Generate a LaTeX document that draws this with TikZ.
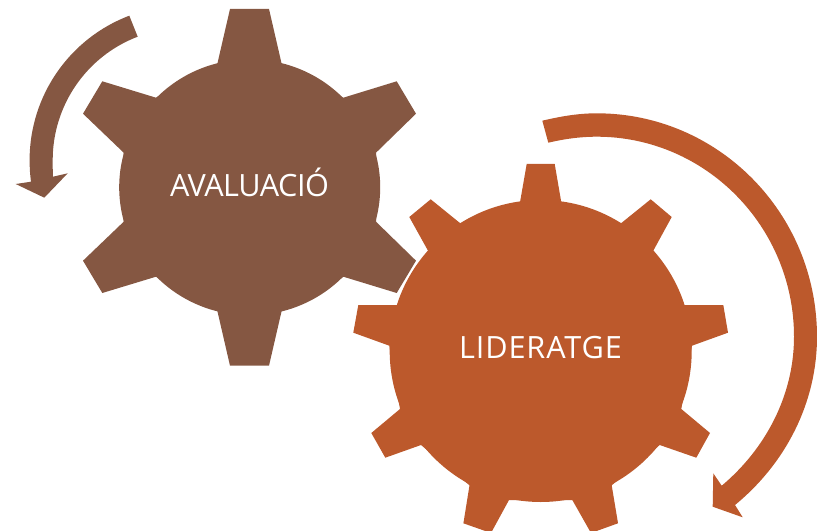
\documentclass[tikz,border=0pt]{standalone}
\usepackage{fontspec}
\setmainfont{Open Sans}
\definecolor{brownfill}{RGB}{133,87,66}
\definecolor{orangefill}{RGB}{188,89,44}
\tikzset{
  gearlabel/.style={text=white,anchor=base,inner sep=0pt,font=\fontsize{23pt}{28pt}\selectfont},
  brownshape/.style={fill=brownfill,draw=none},
  orangeshape/.style={fill=orangefill,draw=none}
}
\begin{document}
\begin{tikzpicture}[x=0.75pt,y=-0.75pt]
\useasboundingbox (0,0) rectangle (817,531);
\clip (0,0) rectangle (817,531);
% brown gear
\fill[brownshape] (249.7,187.3) ellipse [x radius=130.5,y radius=128];
\fill[brownshape] (230,9) -- (269,9) -- (281.7,64) -- (343.3,97.7) -- (396.7,81.3) -- (416,113.7) -- (376,152.7) -- (376,221.7) -- (416,260.7) -- (396.7,293) -- (343.3,276.7) -- (281.7,310.7) -- (269,365.7) -- (230,365.7) -- (217.3,310.7) -- (156,276.7) -- (102.3,293) -- (83,260.7) -- (123.7,221.7) -- (123.7,152.7) -- (83,113.7) -- (102.3,81.3) -- (156,97.7) -- (217.3,64) -- cycle;
% orange gear
\fill[orangeshape] (540.7,351) circle [radius=151];
\fill[orangeshape] (526.7,164) -- (554.7,164) -- (561.3,202.3) -- (621,223.3) -- (650.7,199.3) -- (671.7,217) -- (653.3,250.7) -- (684,305) -- (723.3,305) -- (728,332.7) -- (692,345.7) -- (681.3,409) -- (710,433) -- (696.3,457.7) -- (659.7,445) -- (611.7,485.3) -- (618,523.3) -- (591,533) -- (572.3,500) -- (509,500) -- (491,533) -- (463.4,523.3) -- (469.5,485.3) -- (421,445) -- (385.3,457.7) -- (371.3,433) -- (400,409) -- (389.3,345.7) -- (353.3,332.7) -- (358.3,305) -- (397,305) -- (428,250.7) -- (409.3,217) -- (430.7,199.3) -- (460.3,223.3) -- (520,202.3) -- cycle;
% brown arrow
\fill[brownshape] (129.3,15.7) .. controls (69.4,38.4) and (29.6,95.9) .. (29.6,160) .. controls (29.6,167.2) and (30,174.5) .. (31,181.7) -- (15.7,184) -- (44.3,197.7) -- (67.7,173.3) -- (53,176.7) .. controls (52.7,171) and (52.7,166) .. (52.7,160) .. controls (52.7,105.3) and (86.6,56.1) .. (137.7,36.7) -- cycle;
% orange arrow
\fill[orangeshape] (542.3,120.7) .. controls (560,116.5) and (578,113.3) .. (596.7,113.3) .. controls (718.4,113.3) and (817,213.3) .. (817,336.7) .. controls (817,402.5) and (785.9,463.2) .. (735,505) -- (742.7,517.3) -- (712.7,506.7) -- (713.3,473.3) -- (721.7,485.7) .. controls (766.1,448.4) and (794,394.7) .. (794,336.7) .. controls (794,226.7) and (705.7,136.7) .. (596.7,136.7) .. controls (580,136.7) and (564,139) .. (548.3,142.7) -- cycle;
% labels
\node[gearlabel] (avaluacio) at (249.5,196.7) {\addfontfeature{LetterSpace=-1.6}AVALUACIÓ};
\node[gearlabel] (lideratge) at (540.5,358.3) {\addfontfeature{LetterSpace=2.8}LIDERATGE};
\end{tikzpicture}
\end{document}
